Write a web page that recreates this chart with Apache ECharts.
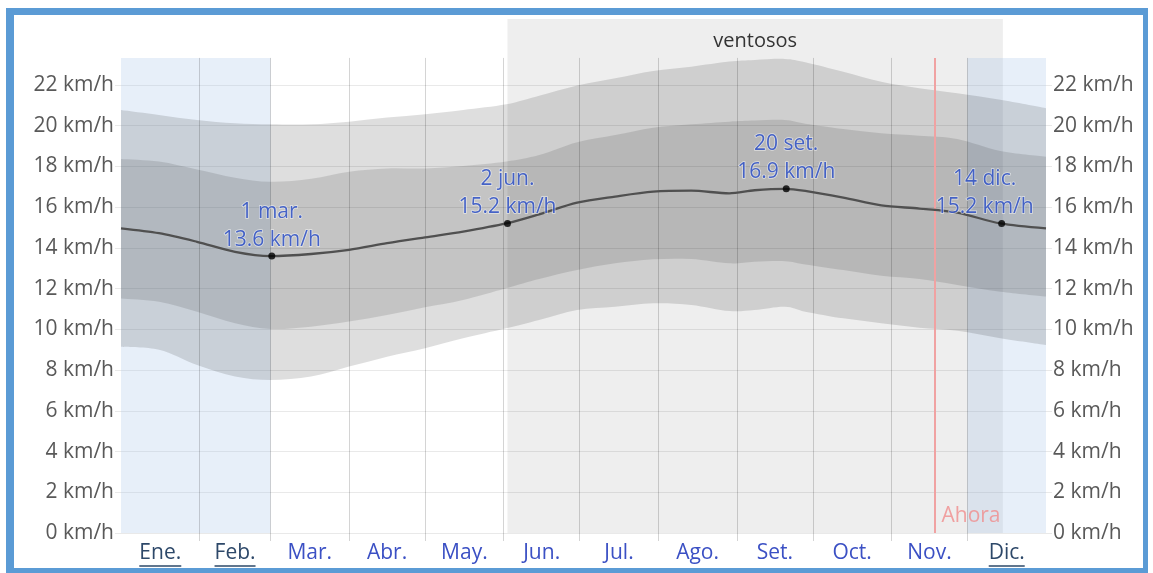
<!DOCTYPE html>
<html>
<head>
<meta charset="utf-8">
<script src="https://cdn.jsdelivr.net/npm/echarts@6/dist/echarts.min.js"></script>
<style>
  html, body { margin: 0; padding: 0; background: #fff; }
  #chart { width: 1153px; height: 573px; }
</style>
</head>
<body>
<div id="chart"></div>
<script>
// Day of year (0 = 1 Jan) for each sample of the wind-speed bands
const days    = [0, 15, 30, 45, 59, 75, 90, 105, 120, 135, 152, 165, 180, 195, 210, 225, 240, 250, 262, 270, 285, 300, 315, 330, 347, 365];
// 10th, 25th, 50th, 75th and 90th percentile of the mean wind speed (km/h)
const p10     = [9.15, 9.0, 8.25, 7.68, 7.51, 7.68, 8.17, 8.66, 9.07, 9.56, 10.05, 10.46, 10.95, 11.11, 11.28, 11.2, 10.9, 10.95, 11.11, 10.87, 10.54, 10.3, 10.08, 9.93, 9.56, 9.23];
const p25     = [11.52, 11.36, 10.87, 10.3, 10.02, 10.13, 10.38, 10.7, 11.08, 11.44, 12.02, 12.47, 12.91, 13.24, 13.44, 13.45, 13.24, 13.32, 13.35, 13.19, 12.91, 12.63, 12.47, 12.18, 11.85, 11.61];
const median  = [14.96, 14.72, 14.3, 13.81, 13.6, 13.7, 13.9, 14.23, 14.52, 14.8, 15.2, 15.65, 16.22, 16.52, 16.76, 16.81, 16.68, 16.83, 16.9, 16.8, 16.47, 16.09, 15.93, 15.73, 15.2, 14.96];
const p75     = [18.37, 18.24, 17.85, 17.45, 17.25, 17.4, 17.74, 17.9, 17.9, 18.02, 18.24, 18.56, 19.19, 19.54, 19.9, 20.07, 20.2, 20.25, 20.28, 20.1, 19.84, 19.63, 19.51, 19.35, 18.76, 18.48];
const p90     = [20.77, 20.53, 20.28, 20.12, 20.07, 20.07, 20.2, 20.4, 20.56, 20.77, 21.05, 21.47, 21.97, 22.33, 22.69, 22.9, 23.15, 23.23, 23.28, 23.12, 22.65, 22.16, 21.84, 21.59, 21.27, 20.86];

// Months
const monthStarts = [0, 31, 59, 90, 120, 151, 181, 212, 243, 273, 304, 334, 365];
const monthMids   = [15.5, 45, 74.5, 105, 135.5, 166, 196.5, 227.5, 258, 288.5, 319, 349.5];
const monthLabels = ['Ene.', 'Feb.', 'Mar.', 'Abr.', 'May.', 'Jun.', 'Jul.', 'Ago.', 'Set.', 'Oct.', 'Nov.', 'Dic.'];
const underlinedMonths = ['Ene.', 'Feb.', 'Dic.'];

// Y axis
const yTicks = [0, 2, 4, 6, 8, 10, 12, 14, 16, 18, 20, 22];
const plotTop = 23.33;    // top of the month grid
const yTop = 25.24;       // top of the windy-season box

// Highlighted days
const highlightDays   = [59.5, 152.5, 262.5, 347.5];
const highlightValues = [13.6, 15.2, 16.9, 15.2];
const highlightDates  = ['1 mar.', '2 jun.', '20 set.', '14 dic.'];

// Seasons and "now"
const windySeason = [152.5, 348];
const shadedSpans = [[0, 59], [334, 365]];
const nowDay = 321;

const FONT = "'Open Sans', 'Noto Sans', sans-serif";
const FS = 21;
const GRID_H = 'rgba(0,0,0,0.085)';
const GRID_V = 'rgba(0,0,0,0.17)';

// Width of each month label, for the underline under the linked months
const measureCtx = document.createElement('canvas').getContext('2d');
measureCtx.font = FS + 'px ' + FONT;
const monthRich = {
  b: { color: '#3b50c4', fontSize: FS, fontFamily: FONT, lineHeight: 22 },
  u: { color: '#2d4869', fontSize: FS, fontFamily: FONT, lineHeight: 22 }
};
monthLabels.forEach((m, i) => {
  monthRich['l' + i] = {
    width: Math.round(measureCtx.measureText(m).width), height: 1.5, lineHeight: 4,
    fontSize: 1, backgroundColor: '#2d4869'
  };
});

// Smooth closed band between an upper and a lower curve, in pixel space
function curvePath(p, move) {
  let d = (move ? 'M' : 'L') + p[0][0] + ' ' + p[0][1];
  for (let i = 0; i < p.length - 1; i++) {
    const p0 = p[i - 1] || p[i], p1 = p[i], p2 = p[i + 1], p3 = p[i + 2] || p[i + 1];
    const c1 = [p1[0] + (p2[0] - p0[0]) / 6, p1[1] + (p2[1] - p0[1]) / 6];
    const c2 = [p2[0] - (p3[0] - p1[0]) / 6, p2[1] - (p3[1] - p1[1]) / 6];
    d += 'C' + c1[0] + ' ' + c1[1] + ' ' + c2[0] + ' ' + c2[1] + ' ' + p2[0] + ' ' + p2[1];
  }
  return d;
}
function bandSeries(lo, hi, color, z) {
  return {
    type: 'custom', z: z, silent: true, clip: true,
    data: [0],
    renderItem: (params, api) => {
      const upper = days.map((d, i) => api.coord([d, hi[i]]));
      const lower = days.map((d, i) => api.coord([d, lo[i]])).reverse();
      return {
        type: 'path',
        shape: { pathData: curvePath(upper, true) + curvePath(lower, false) + 'Z' },
        style: { fill: color }
      };
    }
  };
}

const chart = echarts.init(document.getElementById('chart'), null, { renderer: 'canvas' });

const yAxisCommon = {
  type: 'value', min: 0, max: yTop,
  axisLine: { show: false },
  axisTick: { show: true, customValues: yTicks, length: 6, lineStyle: { color: GRID_H } },
  axisLabel: {
    customValues: yTicks, formatter: v => v + ' km/h',
    color: '#595959', fontSize: FS, fontFamily: FONT, margin: 7
  }
};

const option = {
  animation: false,
  backgroundColor: '#fff',
  grid: { left: 121, right: 107, top: 19, bottom: 40 },
  xAxis: {
    type: 'value', min: 0, max: 365,
    axisLine: { show: false },
    splitLine: { show: false },
    axisTick: { show: true, customValues: monthStarts.slice(1, 12), length: 8, lineStyle: { color: GRID_V } },
    axisLabel: {
      customValues: monthMids,
      margin: 9,
      formatter: v => {
        const i = monthMids.indexOf(v);
        const m = monthLabels[i];
        return underlinedMonths.includes(m) ? '{u|' + m + '}\n{l' + i + '| }' : '{b|' + m + '}';
      },
      rich: monthRich
    }
  },
  yAxis: [
    Object.assign({}, yAxisCommon, { position: 'left', splitLine: { show: true, lineStyle: { color: GRID_H } } }),
    Object.assign({}, yAxisCommon, { position: 'right', splitLine: { show: false } })
  ],
  graphic: [
    { type: 'rect', shape: { x: 6, y: 8, width: 8, height: 565 }, style: { fill: '#5b9bd5' }, silent: true },
    { type: 'rect', shape: { x: 6, y: 8, width: 1142, height: 7 }, style: { fill: '#5b9bd5' }, silent: true },
    { type: 'rect', shape: { x: 1143, y: 8, width: 5, height: 565 }, style: { fill: '#5b9bd5' }, silent: true },
    { type: 'rect', shape: { x: 6, y: 568, width: 1142, height: 5 }, style: { fill: '#5b9bd5' }, silent: true }
  ],
  series: [
    {
      // season shading
      type: 'line', data: [], z: 1, silent: true,
      markArea: {
        silent: true,
        data: [
          [{ xAxis: windySeason[0], yAxis: 0, itemStyle: { color: 'rgba(0,0,0,0.065)' },
             label: { show: true, position: 'insideTop', distance: 12, formatter: 'ventosos', color: '#333', fontSize: 20, fontFamily: FONT } },
           { xAxis: windySeason[1], yAxis: yTop }],
          ...shadedSpans.map(s => [
            { xAxis: s[0], yAxis: 0, itemStyle: { color: 'rgba(170,198,232,0.28)' }, label: { show: false } },
            { xAxis: s[1], yAxis: plotTop }
          ])
        ]
      }
    },
    bandSeries(p10, p90, 'rgba(0,0,0,0.13)', 2),
    bandSeries(p25, p75, 'rgba(0,0,0,0.115)', 3),
    {
      // month boundaries and "now" line
      type: 'line', data: [], z: 4, silent: true,
      markLine: {
        silent: true, symbol: 'none', label: { show: false },
        data: [
          ...monthStarts.slice(1, 12).map(d => [
            { coord: [d, 0], lineStyle: { color: GRID_V, width: 1, type: 'solid' } },
            { coord: [d, plotTop] }
          ]),
          [{ coord: [nowDay, 0], lineStyle: { color: '#f0a2a2', width: 2, type: 'solid' } },
           { coord: [nowDay, plotTop] }]
        ]
      }
    },
    {
      type: 'line', data: days.map((d, i) => [d, median[i]]), z: 5, symbol: 'none', smooth: 0.3,
      lineStyle: { color: '#505050', width: 2.3 }, silent: true
    },
    {
      type: 'scatter', z: 6, silent: true,
      // the last label is nudged left so it stays inside the plot
      data: highlightDays.map((d, i) => ({
        value: [d, highlightValues[i]],
        label: i === highlightDays.length - 1 ? { offset: [-17, 0] } : {}
      })),
      symbolSize: 7, itemStyle: { color: '#000' },
      label: {
        show: true, position: 'top', distance: -1,
        formatter: p => highlightDates[p.dataIndex] + '\n' + highlightValues[p.dataIndex].toFixed(1) + ' km/h',
        color: '#1f44bf', fontSize: FS, fontFamily: FONT, lineHeight: 28,
        textBorderColor: 'rgba(255,255,255,0.7)', textBorderWidth: 1.5
      }
    },
    {
      type: 'scatter', z: 6, silent: true,
      data: [[nowDay, 0]], symbolSize: 0,
      label: {
        show: true, position: 'right', distance: 7, offset: [0, -17],
        formatter: 'Ahora', color: '#f08c8c', fontSize: FS, fontFamily: FONT
      }
    }
  ]
};

chart.setOption(option);
</script>
</body>
</html>
